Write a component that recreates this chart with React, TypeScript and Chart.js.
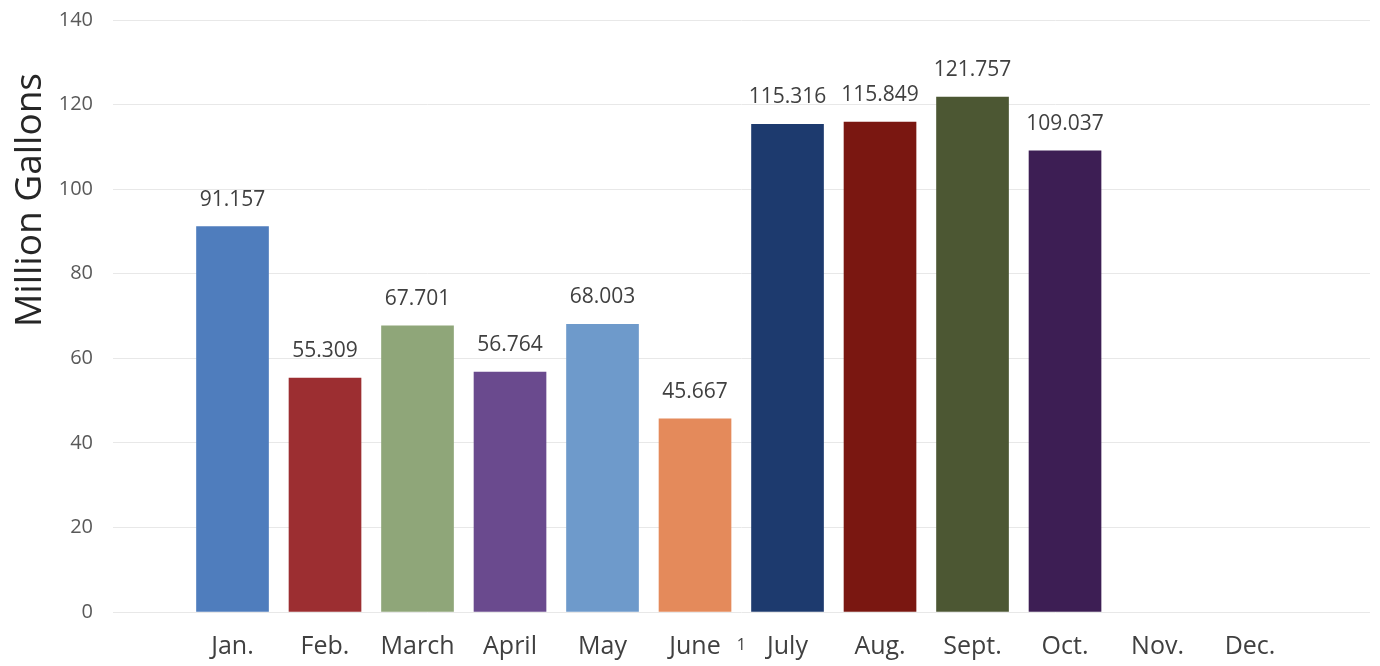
import React, { useEffect, useRef } from "react";
import { Chart, registerables } from "chart.js";

Chart.register(...registerables);

const months = ["Jan.", "Feb.", "March", "April", "May", "June", "July", "Aug.", "Sept.", "Oct.", "Nov.", "Dec."];
const values = [91.157, 55.309, 67.701, 56.764, 68.003, 45.667, 115.316, 115.849, 121.757, 109.037];
const barColors = [
  "#4f7dbd", "#9c2e31", "#8fa679", "#6a4a8e", "#6e9acb", "#e48a5b",
  "#1d3a6e", "#7a1711", "#4c5733", "#3d1e54",
];
const yTicks = [0, 20, 40, 60, 80, 100, 120, 140];
const yTitle = "Million Gallons";
const footnote = "1";

const FONT = "'Open Sans', 'Liberation Sans', sans-serif";

export default function App() {
  const ref = useRef<HTMLCanvasElement | null>(null);

  useEffect(() => {
    if (!ref.current) return;
    const labelPlugin = {
      id: "extras",
      afterDatasetsDraw(chart: any) {
        const ctx = chart.ctx;
        const meta = chart.getDatasetMeta(0);
        ctx.save();
        ctx.fillStyle = "#404040";
        ctx.font = `21px ${FONT}`;
        ctx.textAlign = "center";
        ctx.textBaseline = "middle";
        meta.data.forEach((el: any, i: number) => {
          ctx.fillText(values[i].toFixed(3), el.x, el.y - 27);
        });
        // footnote marker
        const xs = chart.scales.x;
        ctx.font = `16px ${FONT}`;
        ctx.fillText(footnote, xs.getPixelForValue(5.5), 645);
        // y-axis title
        ctx.translate(30, 200);
        ctx.rotate(-Math.PI / 2);
        ctx.font = `37px ${FONT}`;
        ctx.fillStyle = "#262626";
        ctx.textAlign = "center";
        ctx.textBaseline = "middle";
        ctx.fillText(yTitle, 0, 0);
        ctx.restore();
      },
    };

    const chart = new Chart(ref.current, {
      type: "bar",
      data: {
        datasets: [
          {
            data: values.map((v, i) => ({ x: i, y: v })),
            backgroundColor: barColors,
            barThickness: 72,
            borderWidth: 0,
          },
        ],
      },
      options: {
        animation: false,
        responsive: false,
        maintainAspectRatio: false,
        layout: { padding: { top: 20, right: 10, left: 0, bottom: 0 } },
        plugins: { legend: { display: false }, tooltip: { enabled: false } },
        scales: {
          x: {
            type: "linear",
            offset: false,
            bounds: "ticks",
            min: -1.292,
            max: 12.297,
            grid: { display: false, drawTicks: false, offset: false },
            border: { display: false },
            afterFit: (s: any) => {
              s.height = 54;
              s.paddingLeft = 0;
              s.paddingRight = 0;
            },
            afterBuildTicks: (s: any) => {
              s.ticks = months.map((_, i) => ({ value: i }));
            },
            ticks: {
              autoSkip: false,
              maxRotation: 0,
              padding: 20,
              color: "#404040",
              font: { family: FONT, size: 25 },
              callback: (v: any) => months[v] ?? "",
            },
          },
          y: {
            min: 0,
            max: 140,
            afterFit: (s: any) => {
              s.width = 113;
              s.paddingTop = 0;
              s.paddingBottom = 0;
            },
            afterBuildTicks: (s: any) => {
              s.ticks = yTicks.map((v) => ({ value: v }));
            },
            grid: { color: "#e8e8e8", drawTicks: false, lineWidth: 1 },
            border: { display: false },
            ticks: {
              padding: 20,
              color: "#595959",
              font: { family: FONT, size: 20 },
            },
          },
        },
      },
      plugins: [labelPlugin],
    });
    return () => chart.destroy();
  }, []);

  return (
    <div style={{ position: "fixed", left: 0, top: 0, width: 1380, height: 666, background: "#fff" }}>
      <canvas ref={ref} width={1380} height={666} style={{ width: 1380, height: 666 }} />
    </div>
  );
}
